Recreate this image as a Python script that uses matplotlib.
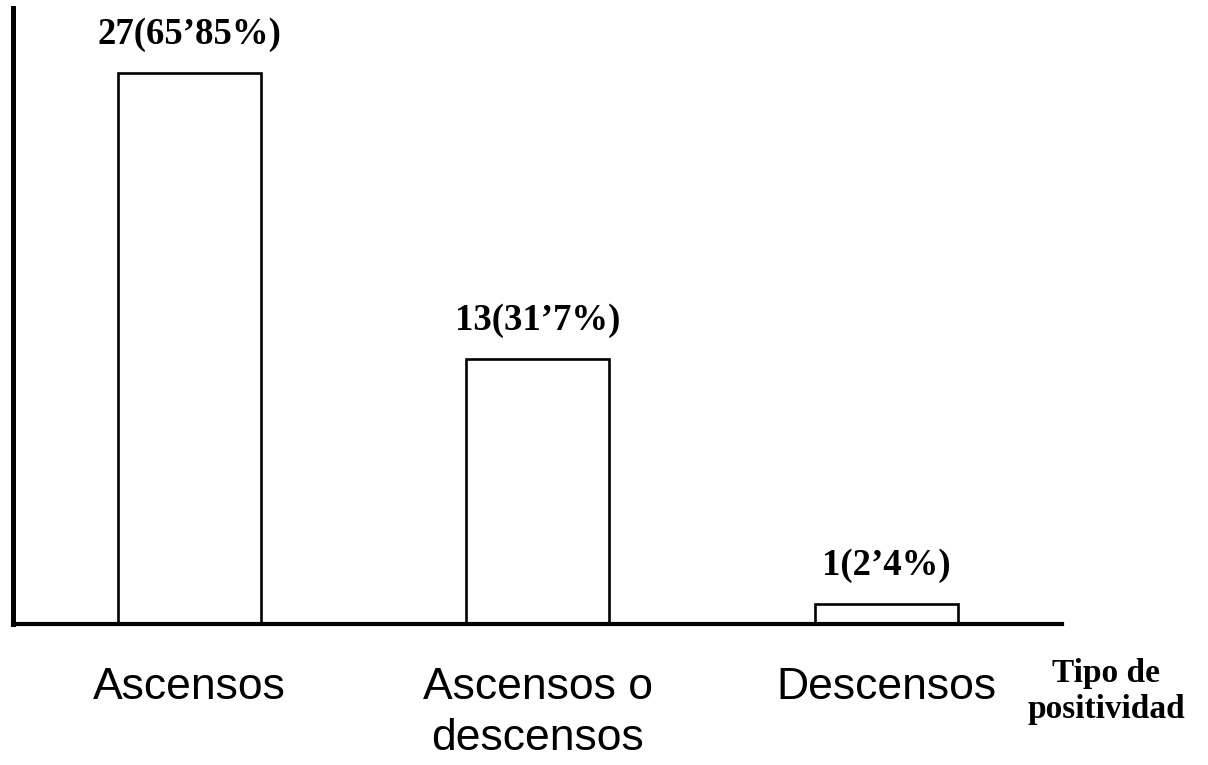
import matplotlib
matplotlib.use("Agg")
import matplotlib.pyplot as plt

categories = ["Ascensos", "Ascensos o\ndescensos", "Descensos"]
counts = [27, 13, 1]
value_labels = ["27(65\u201985%)", "13(31\u20197%)", "1(2\u20194%)"]
axis_title = "Tipo de\npositividad"

W, H = 1208, 765
fig = plt.figure(figsize=(W / 100, H / 100), dpi=100)
ax = fig.add_axes([13 / W, 141 / H, (1062 - 13) / W, (624 - 8) / H])

x = range(len(categories))
bars = ax.bar(x, counts, width=0.41, facecolor="white", edgecolor="black",
              linewidth=1.9, zorder=2)

ax.set_xlim(-0.505, 2.504)
ax.set_ylim(0, 30.2)

for spine in ("top", "right"):
    ax.spines[spine].set_visible(False)
ax.spines["left"].set_linewidth(3.6)
ax.spines["bottom"].set_linewidth(3.0)
ax.spines["left"].set_zorder(3)
ax.spines["bottom"].set_zorder(3)

ax.set_yticks([])
ax.set_xticks(list(x))
ax.set_xticklabels(categories, family="Liberation Sans", fontsize=32)
ax.tick_params(axis="x", length=0, pad=31)
for lbl in ax.get_xticklabels():
    lbl.set_linespacing(1.3)

for bar, txt in zip(bars, value_labels):
    ax.annotate(txt, (bar.get_x() + bar.get_width() / 2, bar.get_height()),
                xytext=(0, 21), textcoords="offset points",
                ha="center", va="baseline", family="Liberation Serif",
                fontweight="bold", fontsize=26.5)

fig.text(1106 / W, 1 - 658 / H, axis_title, ha="center", va="top",
         family="Liberation Serif", fontweight="bold", fontsize=24,
         linespacing=1.22)

fig.savefig("out.png", dpi=100, facecolor="white")
